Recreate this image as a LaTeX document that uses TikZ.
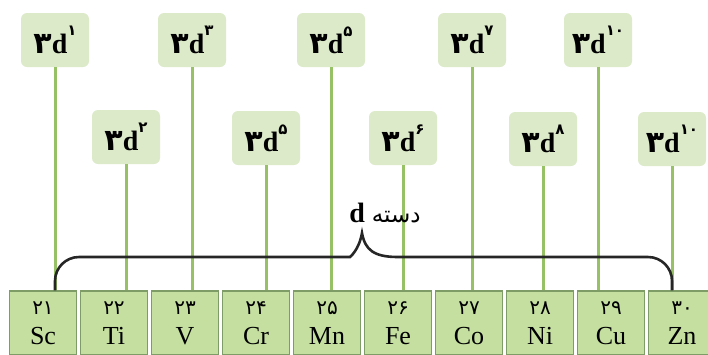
\documentclass[tikz,border=0pt]{standalone}
\usepackage{fontspec}
\setmainfont{Liberation Serif}
\newfontfamily\fafont[Script=Arabic]{DejaVu Sans}
\TeXXeTstate=1
\usepackage{xcolor}
\definecolor{labfill}{HTML}{DCEAC9}
\definecolor{elfill}{HTML}{C4DFA0}
\definecolor{eledge}{HTML}{7E9C66}
\definecolor{stemgreen}{HTML}{96C265}
\newcommand\pdig[1]{{\fafont #1}}
\newcommand\dconf[1]{\pdig{\bfseries\fontsize{30}{30}\selectfont ۳}\textbf{d}\raisebox{1.35ex}{\pdig{\bfseries\fontsize{15}{15}\selectfont #1}}}

\begin{document}
\begin{tikzpicture}[x=1pt,y=-1pt,
  elem/.style={draw=eledge,line width=1.4pt,fill=elfill,minimum width=67pt,minimum height=64pt,
    inner sep=0pt,align=center,font=\fontsize{26}{29}\selectfont},
  lab/.style={fill=labfill,rounded corners=6pt,minimum width=68pt,minimum height=54pt,inner sep=0pt,
    font=\fontsize{28}{30}\selectfont},
  stem/.style={draw=stemgreen,line width=3pt},
  brace/.style={draw=black!85,line width=2.6pt}]
\useasboundingbox (0,0) rectangle (708,354);
% element boxes
\foreach \sym/\num [count=\i from 0] in {Sc/۲۱,Ti/۲۲,V/۲۳,Cr/۲۴,Mn/۲۵,Fe/۲۶,Co/۲۷,Ni/۲۸,Cu/۲۹,Zn/۳۰}
  \node[elem] (e\i) at ({43+71*\i},323) {\pdig{\fontsize{20}{20}\selectfont\num}\\[1pt]\sym};
% configuration labels and stems
\foreach \x/\y/\c [count=\i from 0] in {55/40/۱,126/137/۲,192/40/۳,266/138/۵,331/40/۵,
    403/138/۶,472/40/۷,543/139/۸,598/40/۱۰,672/139/۱۰} {
  \node[lab] (d\i) at (\x,\y) {\dconf{\c}};
  \draw[stem] (d\i.south) -- (d\i.south |- e\i.north);
}
% d block brace
\coordinate (bl) at (d0.south |- e0.north);
\coordinate (br) at (d9.south |- e9.north);
\draw[brace] (bl) [rounded corners=24pt] |- (326,257) [sharp corners]
  .. controls (350,257) and (359,250) .. (362,233)
  .. controls (365,250) and (374,257) .. (398,257) [rounded corners=24pt] -| (br);
\node[font=\fontsize{28}{30}\selectfont] (dblock) at (385,213)
  {\textbf{d}\ {\fafont\fontsize{23}{25}\selectfont\beginR دسته\endR}};
\end{tikzpicture}
\end{document}
